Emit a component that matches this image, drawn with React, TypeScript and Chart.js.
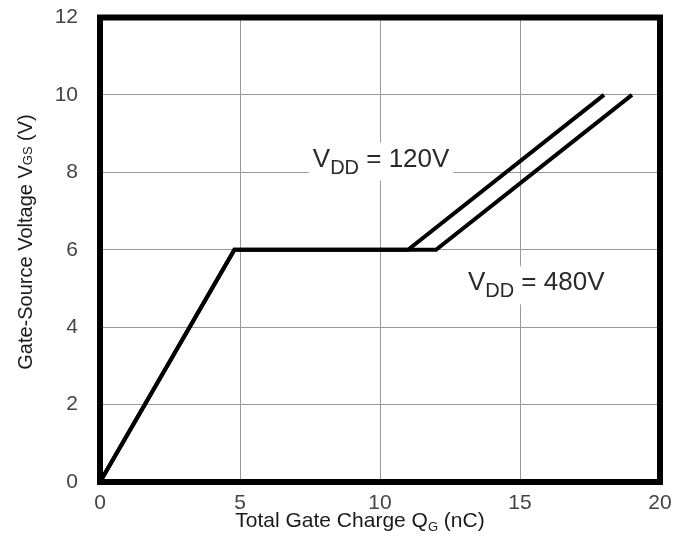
import React, { useEffect, useRef } from "react";
import { Chart, registerables } from "chart.js";

Chart.register(...registerables);

// Data
const qg120 = [0, 4.8, 11, 18];
const vgs120 = [0, 6, 6, 10];
const qg480 = [0, 4.8, 12, 19];
const vgs480 = [0, 6, 6, 10];

const xMin = 0;
const xMax = 20;
const xStep = 5;
const yMin = 0;
const yMax = 12;
const yStep = 2;

const labels = [
  { main: "V", sub: "DD", rest: " = 120V", x: 7.6, y: 8.15 },
  { main: "V", sub: "DD", rest: " = 480V", x: 13.14, y: 4.95 },
];

const FONT = "'Liberation Sans', Arial, Helvetica, sans-serif";

const toPts = (xs: number[], ys: number[]) => xs.map((x, i) => ({ x, y: ys[i] }));

const drawRich = (
  ctx: CanvasRenderingContext2D,
  parts: { t: string; size: number; dy: number }[],
  x: number,
  y: number,
  measureOnly = false
) => {
  let cx = x;
  for (const p of parts) {
    ctx.font = `${p.size}px ${FONT}`;
    if (!measureOnly) ctx.fillText(p.t, cx, y + p.dy);
    cx += ctx.measureText(p.t).width;
  }
  return cx - x;
};

const zeroPad = (s: any) => {
  s.paddingTop = 0;
  s.paddingBottom = 0;
  s.paddingLeft = 0;
  s.paddingRight = 0;
};

const overlayPlugin = {
  id: "overlay",
  afterDatasetsDraw(chart: any) {
    const ctx: CanvasRenderingContext2D = chart.ctx;
    const xs = chart.scales.x;
    const ys = chart.scales.y;
    const area = chart.chartArea;
    ctx.save();
    ctx.textBaseline = "alphabetic";
    ctx.textAlign = "left";
    // annotation labels
    for (const l of labels) {
      const px = xs.getPixelForValue(l.x);
      const py = ys.getPixelForValue(l.y);
      const parts = [
        { t: l.main, size: 26, dy: 0 },
        { t: l.sub, size: 20, dy: 7 },
        { t: l.rest, size: 26, dy: 0 },
      ];
      const w = drawRich(ctx, parts, px, py, true);
      ctx.fillStyle = "#ffffff";
      ctx.fillRect(px - 4, py - 24, w + 8, 38);
      ctx.fillStyle = "#2a2a2a";
      drawRich(ctx, parts, px, py);
    }
    // frame
    ctx.strokeStyle = "#000000";
    ctx.lineWidth = 6;
    ctx.lineJoin = "miter";
    ctx.strokeRect(area.left, area.top, area.right - area.left, area.bottom - area.top);

    // x axis title
    ctx.fillStyle = "#1a1a1a";
    const xParts = [
      { t: "Total Gate Charge Q", size: 21, dy: 0 },
      { t: "G", size: 13, dy: 4 },
      { t: " (nC)", size: 21, dy: 0 },
    ];
    const xw = drawRich(ctx, xParts, 0, 0, true);
    const xc = 360;
    drawRich(ctx, xParts, xc - xw / 2, 527);

    // y axis title (rotated)
    const yParts = [
      { t: "Gate-Source Voltage V", size: 20, dy: 0 },
      { t: "GS", size: 13, dy: 0 },
      { t: " (V)", size: 20, dy: 0 },
    ];
    const yw = drawRich(ctx, yParts, 0, 0, true);
    const yc = 242;
    ctx.translate(32, yc);
    ctx.rotate(-Math.PI / 2);
    drawRich(ctx, yParts, -yw / 2, 0);
    ctx.restore();
  },
};

export default function App() {
  const ref = useRef<HTMLCanvasElement | null>(null);
  useEffect(() => {
    if (!ref.current) return;
    const chart = new Chart(ref.current, {
      type: "line",
      data: {
        datasets: [
          {
            label: "VDD = 120V",
            data: toPts(qg120, vgs120),
            borderColor: "#000000",
            borderWidth: 4,
            pointRadius: 0,
            tension: 0,
            fill: false,
          },
          {
            label: "VDD = 480V",
            data: toPts(qg480, vgs480),
            borderColor: "#000000",
            borderWidth: 4,
            pointRadius: 0,
            tension: 0,
            fill: false,
          },
        ],
      },
      options: {
        responsive: false,
        animation: false,
        layout: { padding: { top: 17.5, right: 14, left: 0, bottom: 0 } },
        plugins: {
          legend: { display: false },
          tooltip: { enabled: false },
          title: { display: false },
        },
        scales: {
          x: {
            type: "linear",
            min: xMin,
            max: xMax,
            ticks: {
              stepSize: xStep,
              padding: 9,
              color: "#444444",
              font: { family: FONT, size: 21 },
              maxRotation: 0,
            },
            grid: { color: "#999999", lineWidth: 1, drawTicks: false },
            border: { display: false },
            afterFit: (s: any) => {
              s.height = 61;
              zeroPad(s);
            },
          },
          y: {
            type: "linear",
            min: yMin,
            max: yMax,
            ticks: {
              stepSize: yStep,
              padding: 22,
              color: "#444444",
              font: { family: FONT, size: 21 },
            },
            grid: { color: "#999999", lineWidth: 1, drawTicks: false },
            border: { display: false },
            afterFit: (s: any) => {
              s.width = 100;
              zeroPad(s);
            },
          },
        },
      },
      plugins: [overlayPlugin],
    });
    return () => chart.destroy();
  }, []);
  return (
    <div style={{ position: "fixed", left: 0, top: 0, width: 674, height: 543, background: "#fff" }}>
      <canvas ref={ref} width={674} height={543} />
    </div>
  );
}
